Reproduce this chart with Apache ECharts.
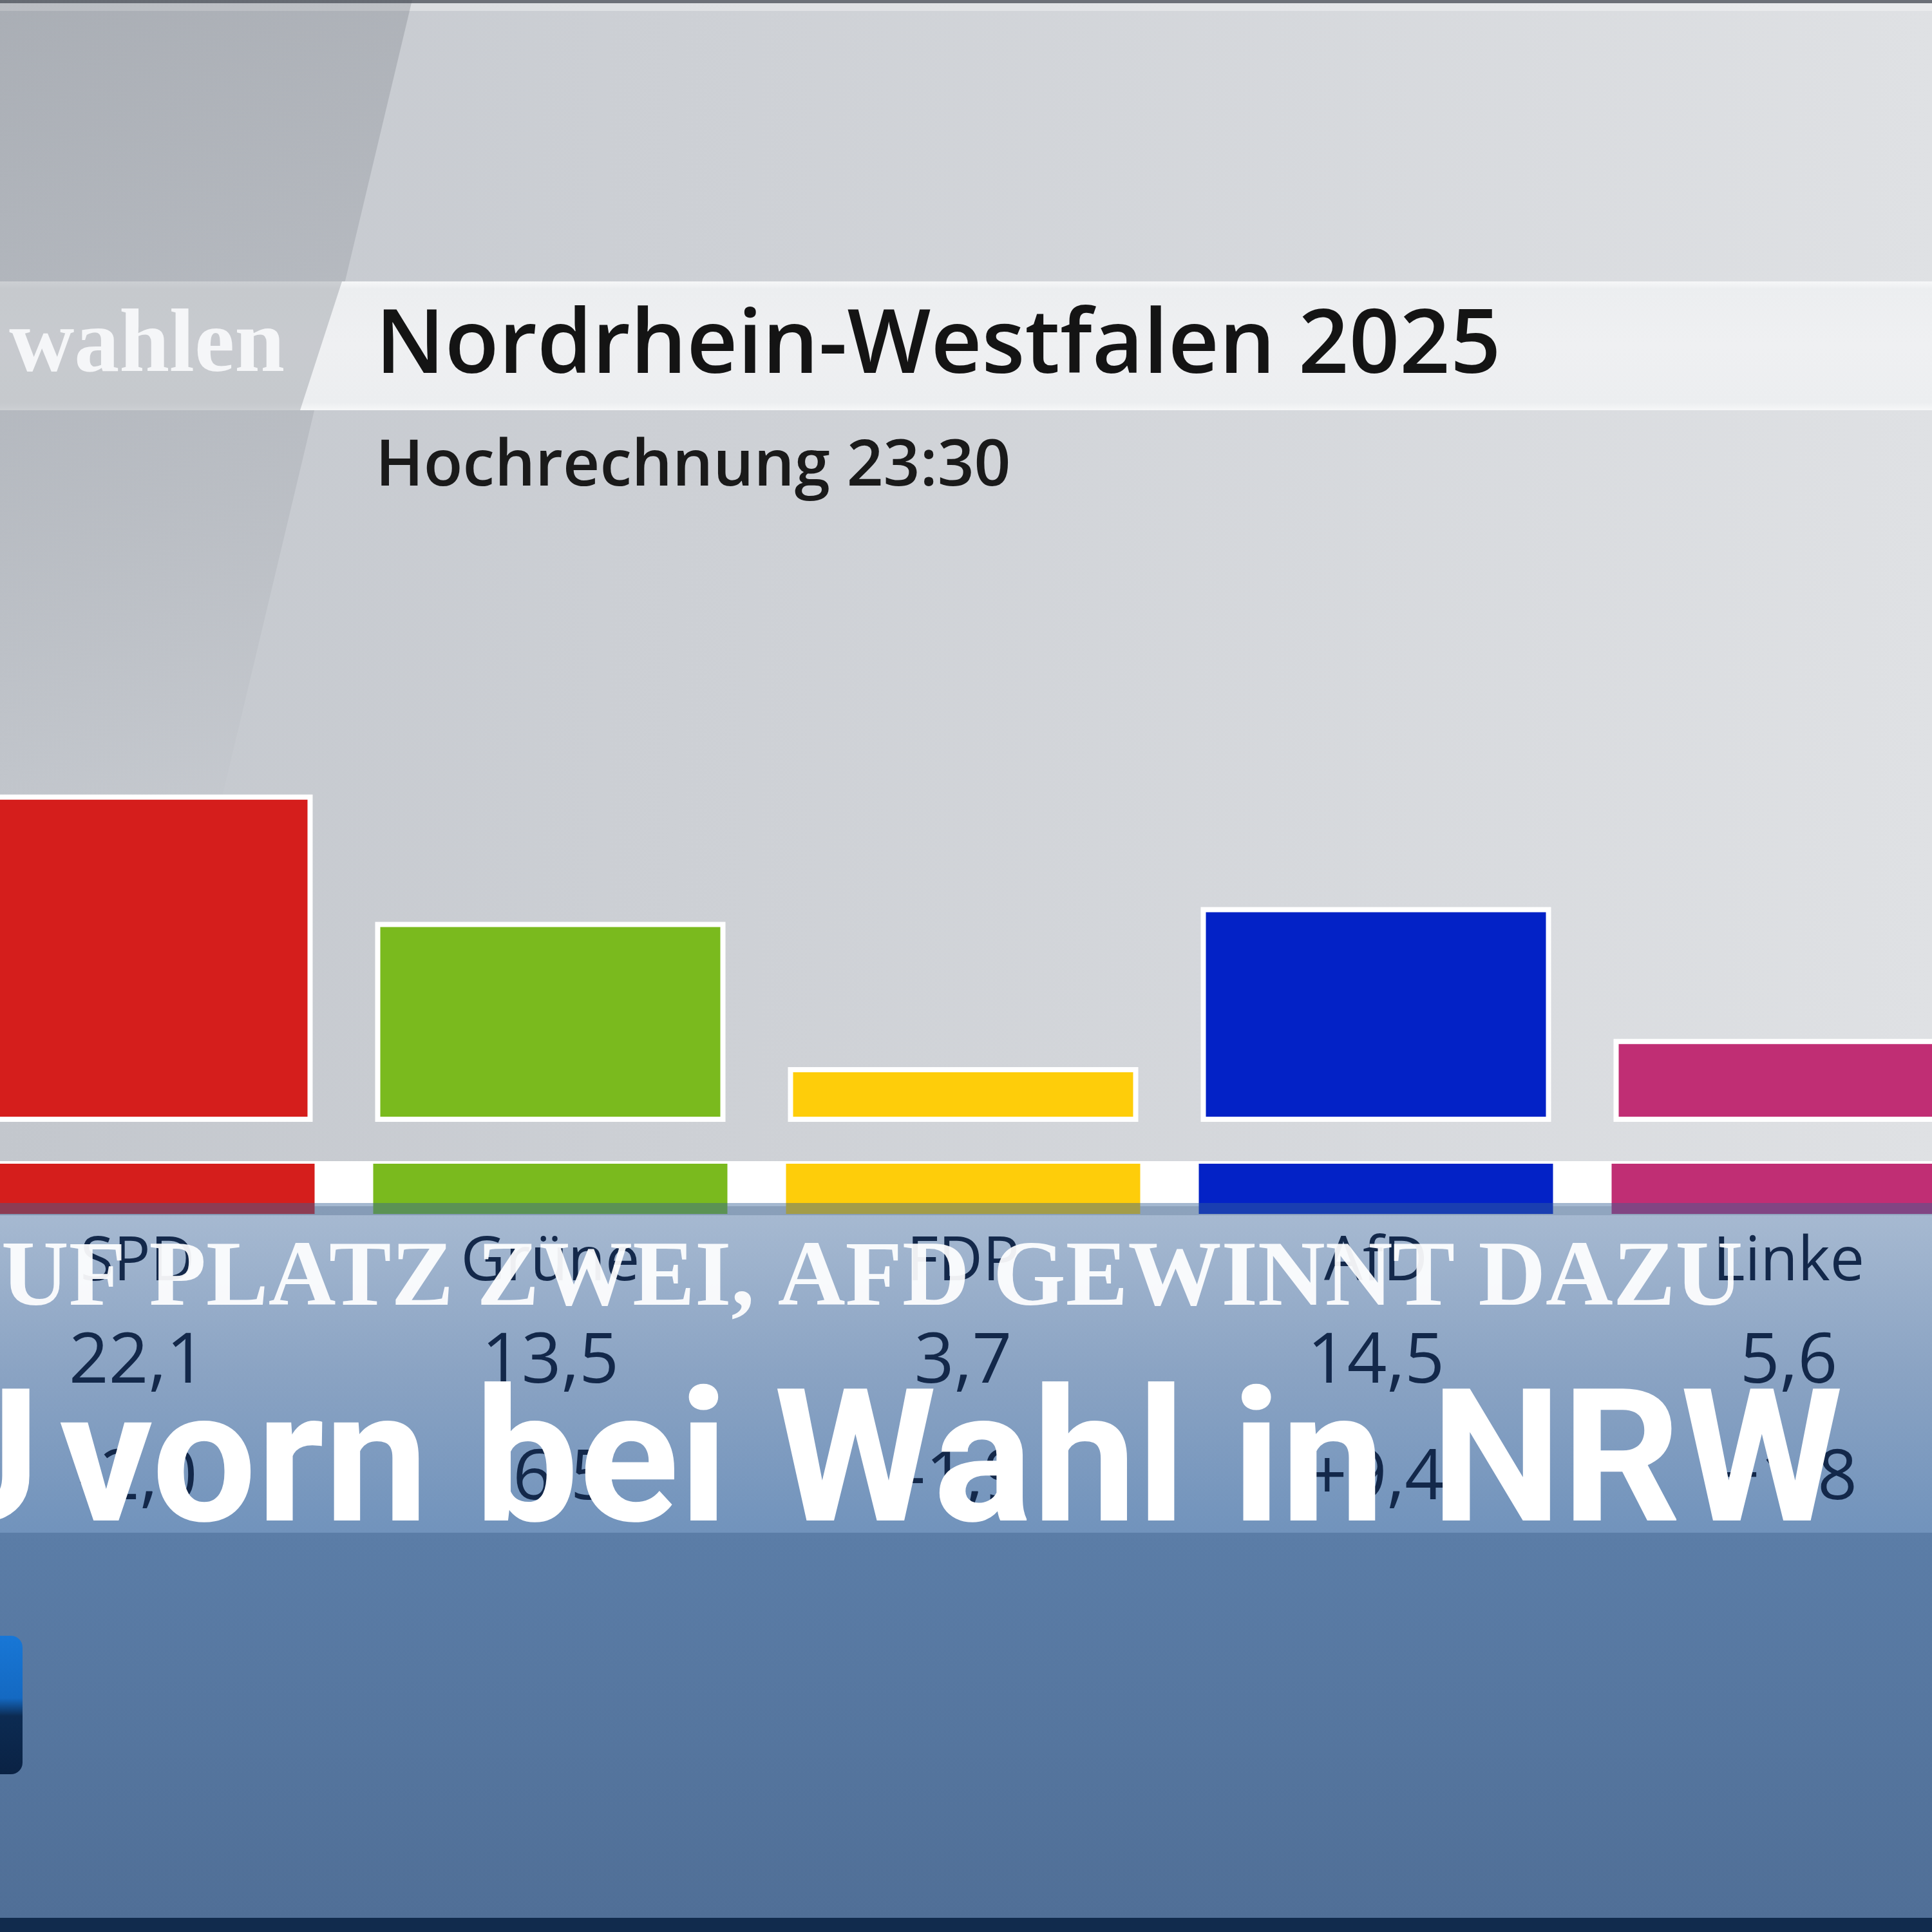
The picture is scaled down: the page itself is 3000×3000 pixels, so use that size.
<!DOCTYPE html>
<html><head><meta charset="utf-8">
<script src="https://cdn.jsdelivr.net/npm/echarts@6/dist/echarts.min.js"></script>
<style>html,body{margin:0;padding:0;background:#cfd2d7}#c{width:3000px;height:3000px}</style>
</head><body><div id="c"></div>
<script>
// ---- data ----
const parties = ['SPD', 'Grüne', 'FDP', 'AfD', 'Linke'];
const shares = [22.1, 13.5, 3.7, 14.5, 5.6];
const shareLabels = ['22,1', '13,5', '3,7', '14,5', '5,6'];
const changeLabels = ['-2,0', '-6,5', '-1,9', '+9,4', '+1,8'];
const partyColors = ['#d51e1c', '#7aba1e', '#fecd0a', '#0322c6', '#c02e74'];
const titleText = 'Nordrhein-Westfalen 2025';
const subtitleText = 'Hochrechnung 23:30';
const sectionText = 'wahlen';
const tickerText = 'UF PLATZ ZWEI, AFD GEWINNT DAZU';
const headlineCut = 'U';
const headlineText = 'vorn bei Wahl in NRW';

const chart = echarts.init(document.getElementById('c'), null, {renderer: 'canvas'});
const lg = (x1, y1, x2, y2, stops) => new echarts.graphic.LinearGradient(x1, y1, x2, y2, stops.map(s => ({offset: s[0], color: s[1]})));

const option = {
  animation: false,
  backgroundColor: lg(0, 0, 1, 0, [[0, '#c3c7cd'], [0.35, '#cdd0d5'], [1, '#dfe1e4']]),
  grid: [
    {left: -107, width: 3205, top: 592, height: 1150, outerBoundsMode: 'none', containLabel: false},
    {left: -107, width: 3205, top: 1807, height: 78, outerBoundsMode: 'none', containLabel: false}
  ],
  xAxis: [
    {
      type: 'category', gridIndex: 0, data: parties, z: 12,
      axisLine: {show: false}, axisTick: {show: false},
      axisLabel: {
        interval: 0, margin: 139,
        formatter: (v, i) => `{n|${v}}\n{v|${shareLabels[i]}}\n{c|${changeLabels[i]}}`,
        rich: {
          n: {fontFamily: 'Open Sans', fontSize: 95, lineHeight: 160, color: '#13284a'},
          v: {fontFamily: 'Open Sans', fontSize: 108, lineHeight: 150, color: '#13284a'},
          c: {fontFamily: 'Open Sans', fontSize: 108, lineHeight: 212, color: '#13284a'}
        }
      }
    },
    {
      type: 'category', gridIndex: 1, data: parties,
      axisLine: {show: false}, axisTick: {show: false}, axisLabel: {show: false}
    }
  ],
  yAxis: [
    {type: 'value', gridIndex: 0, min: 0, max: 50, show: false, splitLine: {show: false}},
    {type: 'value', gridIndex: 1, min: 0, max: 1, show: false, splitLine: {show: false}}
  ],
  series: [
    {
      type: 'bar', xAxisIndex: 0, yAxisIndex: 0, barWidth: 544, z: 3,
      data: shares.map((v, i) => ({value: v, itemStyle: {color: partyColors[i]}})),
      itemStyle: {borderColor: '#ffffff', borderWidth: 8}
    },
    {
      type: 'bar', xAxisIndex: 1, yAxisIndex: 1, barWidth: 550, z: 3,
      data: parties.map((p, i) => ({value: 1, itemStyle: {color: partyColors[i]}}))
    }
  ],
  graphic: [
    // top edge
    {type: 'rect', z: 1, shape: {x: 0, y: 0, width: 3000, height: 5}, style: {fill: '#6c7078'}},
    {type: 'rect', z: 1, shape: {x: 0, y: 5, width: 3000, height: 12}, style: {fill: 'rgba(255,255,255,0.35)'}},
    // left darker panel
    {type: 'polygon', z: 1, shape: {points: [[0, 0], [640, 0], [330, 1300], [0, 1300]]},
      style: {fill: lg(0, 0, 0, 1, [[0, 'rgba(80,86,96,0.22)'], [0.6, 'rgba(80,86,96,0.10)'], [1, 'rgba(80,86,96,0)'] ])}},
    // header band
    {type: 'rect', z: 1, shape: {x: 0, y: 437, width: 3000, height: 200},
      style: {fill: lg(0, 0, 0, 1, [[0, '#f6f7f8'], [0.06, '#eceef0'], [0.5, '#eff0f2'], [0.94, '#eceef0'], [1, '#f6f7f8']])}},
    {type: 'polygon', z: 1, shape: {points: [[0, 437], [531, 437], [466, 637], [0, 637]]},
      style: {fill: 'rgba(110,116,126,0.30)'}},
    {type: 'text', z: 2, style: {x: 442, y: 540, text: sectionText, fill: '#f5f6f8',
      font: '600 140px "Liberation Serif"', align: 'right', verticalAlign: 'middle'}},
    {type: 'text', z: 2, style: {x: 583, y: 540, text: titleText, fill: '#141414',
      font: '600 137.5px "Open Sans"', align: 'left', verticalAlign: 'middle'}},
    {type: 'text', z: 2, style: {x: 583, y: 726, text: subtitleText, fill: '#1a1a1a',
      font: '600 99.5px "Open Sans"', align: 'left', verticalAlign: 'middle'}},
    // white base band behind strips
    {type: 'rect', z: 1, shape: {x: 0, y: 1803, width: 3000, height: 70}, style: {fill: '#ffffff'}},
    // overlay (lower third)
    {type: 'rect', z: 10, shape: {x: 0, y: 1868, width: 3000, height: 20}, style: {fill: 'rgba(53,98,151,0.45)'}},
    {type: 'rect', z: 10, shape: {x: 0, y: 1887, width: 3000, height: 493},
      style: {fill: lg(0, 0, 0, 1, [[0, '#a6b9d1'], [0.5, '#8aa3c3'], [1, '#7193bc']])}},
    {type: 'rect', z: 10, shape: {x: 0, y: 2380, width: 3000, height: 598},
      style: {fill: lg(0, 0, 0, 1, [[0, '#5b7da7'], [1, '#506f97']])}},
    {type: 'rect', z: 10, shape: {x: 0, y: 2978, width: 3000, height: 22}, style: {fill: '#112b4d'}},
    {type: 'rect', z: 11, shape: {x: -30, y: 2540, width: 65, height: 215, r: 18},
      style: {fill: lg(0, 0, 0, 1, [[0, '#1877d6'], [0.45, '#1469c2'], [0.58, '#0c2b52'], [1, '#0a2244']])}},
    // ticker + headline
    {type: 'text', z: 15, style: {x: 2, y: 1989, text: tickerText, fill: 'rgba(255,255,255,0.93)',
      font: 'bold 145px "Liberation Serif"', align: 'left', verticalAlign: 'middle'}},
    {type: 'text', z: 15, style: {x: 62, y: 2289, text: headlineCut, fill: '#ffffff',
      font: 'bold 288px Roboto', align: 'right', verticalAlign: 'middle'}},
    {type: 'text', z: 15, style: {x: 92, y: 2289, text: headlineText, fill: '#ffffff',
      font: 'bold 288px Roboto', align: 'left', verticalAlign: 'middle'}}
  ]
};
chart.setOption(option);
</script>
</body></html>
